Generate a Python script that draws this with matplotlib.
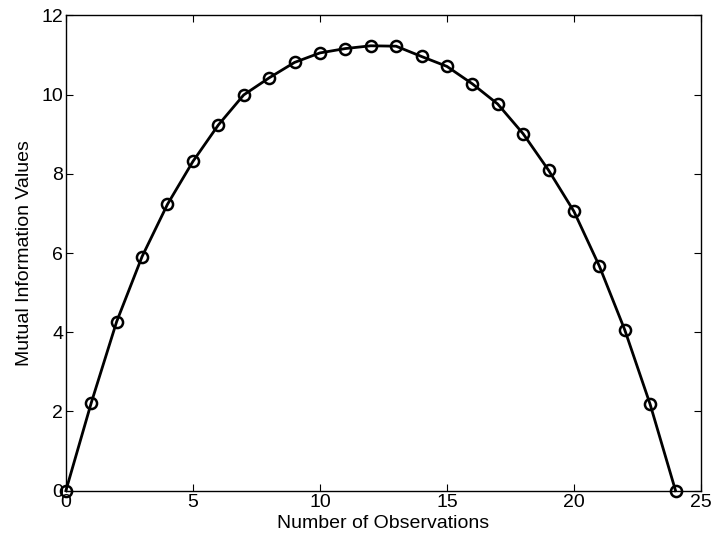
import matplotlib
matplotlib.use('Agg')
import matplotlib.pyplot as plt

plt.rc('font', family=['Liberation Sans', 'DejaVu Sans'], size=14)

# number of observations and mutual information values
observations = list(range(0, 25))
mi_values = [0.0, 2.22, 4.27, 5.91, 7.23, 8.31, 9.23, 9.99, 10.42, 10.81,
             11.05, 11.16, 11.23, 11.22, 10.96, 10.71, 10.27, 9.76, 9.01,
             8.09, 7.05, 5.67, 4.06, 2.18, 0.0]

fig = plt.figure(figsize=(7.16, 5.42), dpi=100)
ax = fig.add_axes([0.092, 0.0946, 0.887, 0.8772])

ax.plot(observations, mi_values, color='black', linewidth=2.0,
        marker='o', markersize=8, markerfacecolor='none',
        markeredgewidth=1.8, markeredgecolor='black', clip_on=False, zorder=3)

ax.set_xlim(0, 25)
ax.set_ylim(0, 12)
ax.set_xticks([0, 5, 10, 15, 20, 25])
ax.set_yticks([0, 2, 4, 6, 8, 10, 12])
ax.tick_params(direction='in', top=True, right=True, length=5, width=0.8, pad=2)
for s in ax.spines.values():
    s.set_linewidth(1.0)

ax.set_xlabel('Number of Observations', labelpad=3)
ax.set_ylabel('Mutual Information Values', labelpad=6)

plt.savefig('out.png', dpi=100)
